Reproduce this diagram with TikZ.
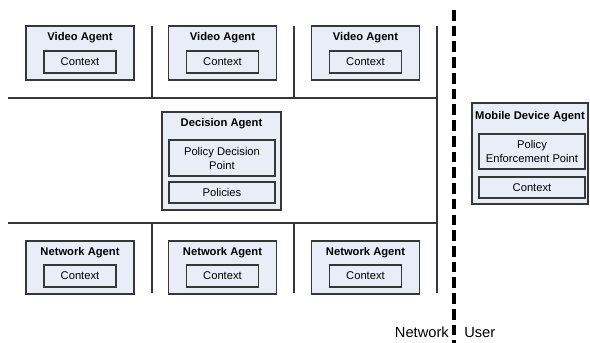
\documentclass[tikz,border=0pt]{standalone}
\usepackage{fontspec}
\setmainfont{Liberation Sans}
\definecolor{fondoagente}{RGB}{232,237,247}
\definecolor{borde}{RGB}{55,55,55}
\tikzset{
	agente/.style={draw=borde, fill=fondoagente, line width=0.8pt, inner sep=0pt},
	caja/.style={draw=borde, fill=fondoagente, line width=0.8pt, inner sep=0pt, align=center, font=\fontsize{8.4}{10.5}\selectfont},
	titulo/.style={inner sep=0pt, font=\bfseries\fontsize{8.4}{10.5}\selectfont},
	separador/.style={draw=borde, line width=1.3pt},
	etiqueta/.style={inner sep=0pt, font=\fontsize{11}{13}\selectfont}
}
\begin{document}
\begin{tikzpicture}[x=0.75pt, y=-0.75pt]
	\useasboundingbox (0,0) rectangle (590,343);
	
	% Separadores de la red
	\draw[separador] (8,98) -- (437,98);
	\draw[separador] (8,223) -- (437,223);
	\draw[separador] (152,26) -- (152,98);
	\draw[separador] (294,26) -- (294,98);
	\draw[separador] (152,223) -- (152,293);
	\draw[separador] (294,223) -- (294,293);
	\draw[separador] (437,26) -- (437,293);
	
	% Agentes de video
	\foreach \i/\cx in {1/80, 2/222.5, 3/365.5} {
		\node[agente, minimum width=81pt, minimum height=40.5pt] (video\i) at (\cx,53) {};
		\node[titulo] (videoT\i) at (\cx,38) {Video Agent};
		\node[caja, minimum width=54pt, minimum height=16.5pt] (videoC\i) at (\cx,62) {Context};
	}
	
	% Agentes de red
	\foreach \i/\cx in {1/80, 2/222.5, 3/365.5} {
		\node[agente, minimum width=81pt, minimum height=39.75pt] (red\i) at (\cx,267.5) {};
		\node[titulo] (redT\i) at (\cx,253) {Network Agent};
		\node[caja, minimum width=54pt, minimum height=16.5pt] (redC\i) at (\cx,276) {Context};
	}
	
	% Agente de decision
	\node[agente, minimum width=89.25pt, minimum height=73.5pt] (decision) at (221.5,161) {};
	\node[titulo] (decisionT) at (221.5,124) {Decision Agent};
	\node[caja, minimum width=79.5pt, minimum height=27pt] (pdp) at (222,158) {Policy Decision\\Point};
	\node[caja, minimum width=79.5pt, minimum height=15.75pt] (politicas) at (222,192.5) {Policies};
	
	% Agente del dispositivo movil
	\node[agente, minimum width=87pt, minimum height=75.75pt] (movil) at (530,153.5) {};
	\node[titulo] (movilT) at (530,117) {Mobile Device Agent};
	\node[caja, minimum width=79.5pt, minimum height=26.25pt] (pep) at (532,151.5) {Policy\\Enforcement Point};
	\node[caja, minimum width=79.5pt, minimum height=15.75pt] (movilC) at (532,187.5) {Context};
	
	% Frontera red / usuario
	\draw[line width=2.6pt, dash pattern=on 8pt off 3.8pt] (454,10) -- (454,343);
	\node[etiqueta, anchor=base east] (ladoRed) at (449,337.5) {Network};
	\node[etiqueta, anchor=base west] (ladoUsuario) at (464,337.5) {User};
	
\end{tikzpicture}
\end{document}
